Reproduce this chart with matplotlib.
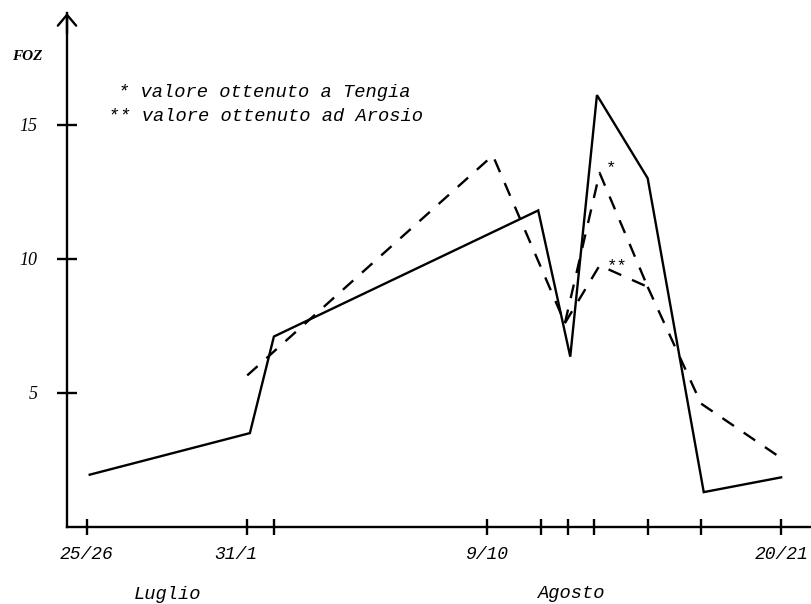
import matplotlib
matplotlib.use("Agg")
import matplotlib.pyplot as plt
from matplotlib.transforms import ScaledTranslation

# Sampling days, counted from 1 July (31.5 = night 31 Jul / 1 Aug)
tick_days = [25.5, 31.5, 32.5, 40.5, 42.5, 43.5, 44.5, 46.5, 48.5, 51.5]
tick_labels = ["25/26", "31/1", "", "9/10", "", "", "", "", "", "20/21"]
y_ticks = [5, 10, 15]

# Solid series
solid_days = [25.6, 31.6, 32.5, 42.4, 43.6, 44.6, 46.5, 48.6, 51.5]
solid_foz = [1.95, 3.5, 7.1, 11.8, 6.35, 16.1, 13.0, 1.3, 1.85]

# Dashed series: shared start, split on one day (Tengia / Arosio), shared end
dashed_head_days = [31.5, 40.7, 43.4]
dashed_head_foz = [5.65, 13.85, 7.6]
split_day = 44.7
foz_tengia = 13.2
foz_arosio = 9.75
dashed_tail_days = [46.5, 48.5, 51.6]
dashed_tail_foz = [8.95, 4.6, 2.5]

mono = "Liberation Mono"
serif = "Liberation Serif"
plt.rcParams["lines.scale_dashes"] = False

W, H = 812, 604
fig = plt.figure(figsize=(W / 100, H / 100), dpi=100)
ax = fig.add_axes([67 / W, (H - 527) / H, (810 - 67) / W, (527 - 13) / H])

lw = 1.7
dash = (0, (10, 8.5))
ax.plot(solid_days, solid_foz, color="black", lw=lw, solid_joinstyle="miter")
ax.plot(dashed_head_days, dashed_head_foz, color="black", lw=lw, linestyle=dash)
ax.plot([dashed_head_days[-1], split_day, dashed_tail_days[0]],
        [dashed_head_foz[-1], foz_tengia, dashed_tail_foz[0]],
        color="black", lw=lw, linestyle=dash)
ax.plot([dashed_head_days[-1], split_day, dashed_tail_days[0]],
        [dashed_head_foz[-1], foz_arosio, dashed_tail_foz[0]],
        color="black", lw=lw, linestyle=dash)
ax.plot(dashed_tail_days, dashed_tail_foz, color="black", lw=lw, linestyle=dash)

# star marks next to the split values
ax.annotate("*", xy=(split_day, foz_tengia), xytext=(8, 4), textcoords="offset points",
            ha="center", va="center", fontsize=12.5, family=mono)
ax.annotate("**", xy=(split_day, foz_arosio), xytext=(13, 0), textcoords="offset points",
            ha="center", va="center", fontsize=12.5, family=mono)

ax.set_xlim(24.75, 52.58)
ax.set_ylim(0, 19.16)

for s in ("top", "right"):
    ax.spines[s].set_visible(False)
for s in ("left", "bottom"):
    ax.spines[s].set_linewidth(lw)

ax.set_xticks(tick_days)
ax.set_xticklabels(tick_labels, family=mono, style="italic", fontsize=13)
ax.set_yticks(y_ticks)
ax.set_yticklabels([str(v) for v in y_ticks], family=serif, style="italic", fontsize=13)
ax.tick_params(axis="x", direction="inout", length=11, width=lw, pad=8)
ax.tick_params(axis="y", direction="inout", length=14, width=lw, pad=14)

# shift the "31/1" label slightly left of its tick
lab = ax.get_xticklabels()[1]
lab.set_transform(lab.get_transform() + ScaledTranslation(-8 / 72, 0, fig.dpi_scale_trans))

# arrow head on the vertical axis
ax.annotate("", xy=(0, 1), xycoords="axes fraction", xytext=(0, 0.96),
            arrowprops=dict(arrowstyle="->,head_length=0.65,head_width=0.55",
                            lw=lw, color="black", mutation_scale=12,
                            shrinkA=0, shrinkB=0), annotation_clip=False)

def px(x, y):
    return x / W, 1 - y / H

fig.text(*px(27, 57), "FOZ", family=serif, style="italic", weight="bold",
         fontsize=11, ha="center", va="center")
fig.text(*px(118, 97), "* valore ottenuto a Tengia", family=mono, style="italic",
         fontsize=13.5, ha="left", va="baseline")
fig.text(*px(108, 121), "** valore ottenuto ad Arosio", family=mono, style="italic",
         fontsize=13.5, ha="left", va="baseline")
fig.text(*px(168, 599), "Luglio", family=mono, style="italic", fontsize=13.5,
         ha="center", va="baseline")
fig.text(*px(572, 598), "Agosto", family=mono, style="italic", fontsize=13.5,
         ha="center", va="baseline")

fig.savefig("out.png", dpi=100)
